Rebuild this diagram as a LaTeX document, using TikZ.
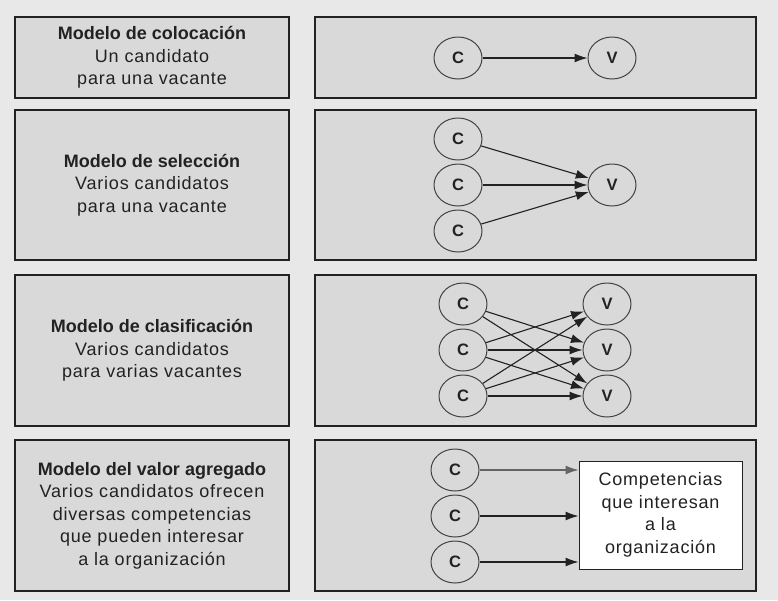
\documentclass[tikz,border=0pt]{standalone}
\usepackage{fontspec}
\setmainfont{Liberation Sans}[LetterSpace=4.5, BoldFeatures={LetterSpace=0}]
\usepackage{tikz}
\usetikzlibrary{arrows.meta, shapes.geometric}
\definecolor{Paper}{HTML}{E8E8E8}
\definecolor{Panel}{HTML}{D9D9D9}
\definecolor{Ink}{HTML}{222222}

\begin{document}
\begin{tikzpicture}[
        x=1pt, y=-1pt,
        font=\fontsize{18}{22.5}\selectfont,
        rel/.style={-{Latex[length=13pt,width=9pt]}, line width=1.1pt, draw=Ink},
        panel/.style={draw=Ink, fill=Panel, line width=1.2pt, minimum width=274pt, inner sep=0pt, align=center, text=Ink},
        board/.style={draw=Ink, fill=Panel, line width=1.2pt, minimum width=441pt, inner sep=0pt},
        cand/.style={ellipse, draw=Ink!85, fill=Panel, line width=1pt, minimum width=48pt, minimum height=42pt, inner sep=0pt, font=\fontsize{16.5}{18}\selectfont\bfseries, text=Ink},
        goal/.style={draw=Ink, fill=white, line width=1pt, minimum width=163pt, minimum height=108pt, inner sep=0pt, align=center, text=Ink}
      ]
        \fill[Paper] (0,0) rectangle (778,600);
        % left column
        \node[panel, minimum height=81pt] (lab1) at (152,57.5) {\textbf{Modelo de colocación}\\Un candidato\\para una vacante};
        \node[panel, minimum height=150pt] (lab2) at (152,185) {\textbf{Modelo de selección}\\Varios candidatos\\para una vacante};
        \node[panel, minimum height=151pt] (lab3) at (152,350.5) {\textbf{Modelo de clasificación}\\Varios candidatos\\para varias vacantes};
        \node[panel, minimum height=151pt] (lab4) at (152,515.5) {\textbf{Modelo del valor agregado}\\Varios candidatos ofrecen\\diversas competencias\\que pueden interesar\\a la organización};
        % right column
        \node[board, minimum height=81pt] (box1) at (535.5,57.5) {};
        \node[board, minimum height=150pt] (box2) at (535.5,185) {};
        \node[board, minimum height=151pt] (box3) at (535.5,350.5) {};
        \node[board, minimum height=151pt] (box4) at (535.5,515.5) {};
        % colocacion
        \node[cand] (c11) at (458,58) {C};
        \node[cand] (v11) at (612,58) {V};
        \draw[rel] (c11) -- (v11);
        % seleccion
        \node[cand] (c21) at (458,139) {C};
        \node[cand] (c22) at (458,185) {C};
        \node[cand] (c23) at (458,231) {C};
        \node[cand] (v21) at (612,185) {V};
        \draw[rel] (c21) -- (v21);
        \draw[rel] (c22) -- (v21);
        \draw[rel] (c23) -- (v21);
        % clasificacion
        \node[cand] (c31) at (463,304) {C};
        \node[cand] (c32) at (463,350) {C};
        \node[cand] (c33) at (463,396) {C};
        \node[cand] (v31) at (607,304) {V};
        \node[cand] (v32) at (607,350) {V};
        \node[cand] (v33) at (607,396) {V};
        \draw[rel] (c31) -- (v32);
        \draw[rel] (c31) -- (v33);
        \draw[rel] (c32) -- (v31);
        \draw[rel] (c32) -- (v32);
        \draw[rel] (c32) -- (v33);
        \draw[rel] (c33) -- (v31);
        \draw[rel] (c33) -- (v32);
        \draw[rel] (c33) -- (v33);
        % valor agregado
        \node[cand] (c41) at (455,470) {C};
        \node[cand] (c42) at (455,516) {C};
        \node[cand] (c43) at (455,562) {C};
        \node[goal] (comp) at (660.5,515) {Competencias\\que interesan\\a la\\organización};
        \draw[rel, draw=Ink!70] (c41) -- (c41 -| comp.west);
        \draw[rel] (c42) -- (c42 -| comp.west);
        \draw[rel] (c43) -- (c43 -| comp.west);
      \end{tikzpicture}
\end{document}
